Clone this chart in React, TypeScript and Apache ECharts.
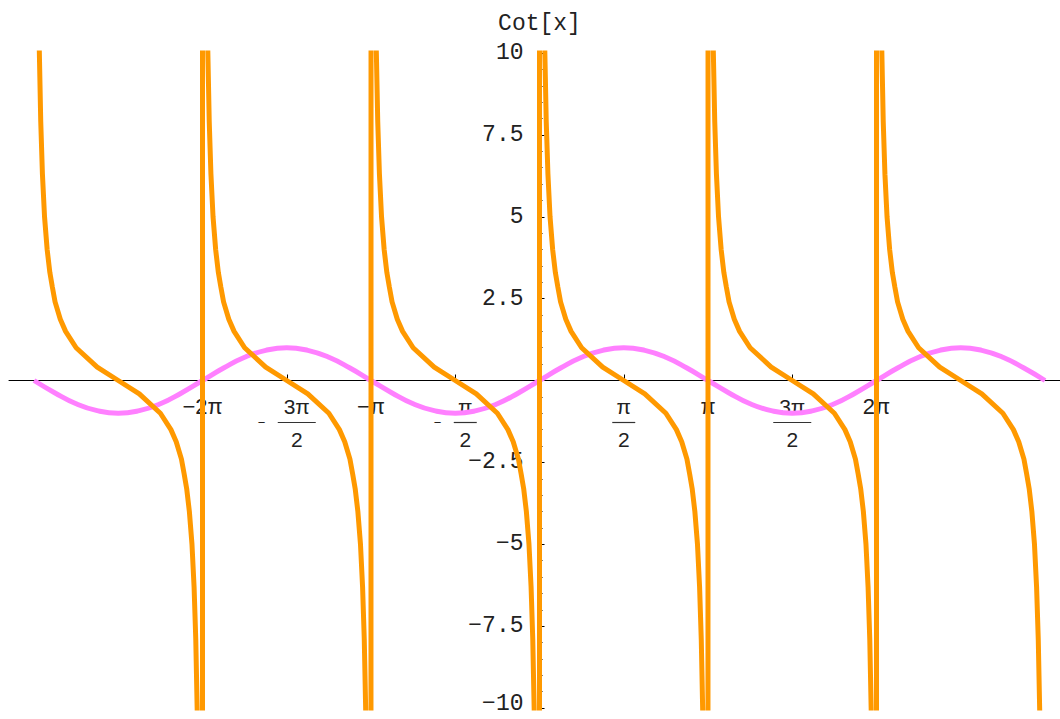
import React, { useEffect, useRef } from 'react';
import * as echarts from 'echarts';

// x values are in units of π
const xTickValues = [-2, -1.5, -1, -0.5, 0.5, 1, 1.5, 2];
const xTickLabels = ['−2π', '−3π/2', '−π', '−π/2', 'π/2', 'π', '3π/2', '2π'];

// Cot[x]: one branch (offset from the asymptote in π units, value)
const branchStarts = [-3, -2, -1, 0, 1, 2];
const cotBranch: [number, number][] = [
  [0.002, 160], [0.031, 10.2], [0.04, 7.9], [0.05, 6.3], [0.0625, 5.0], [0.078, 4.0],
  [0.094, 3.3], [0.109, 2.85], [0.125, 2.4], [0.156, 1.87], [0.1875, 1.5], [0.25, 1.0],
  [0.375, 0.41], [0.5, 0], [0.625, -0.41], [0.75, -1.0], [0.8125, -1.5], [0.844, -1.87],
  [0.875, -2.4], [0.891, -2.85], [0.906, -3.3], [0.922, -4.0], [0.9375, -5.0], [0.95, -6.3],
  [0.96, -7.9], [0.969, -10.2], [0.998, -160],
];

// Sin[x]
const sinPoints: [number, number][] = [
  [-3, 0], [-2.875, -0.38], [-2.75, -0.71], [-2.625, -0.92], [-2.5, -1], [-2.375, -0.92], [-2.25, -0.71], [-2.125, -0.38],
  [-2, 0], [-1.875, 0.38], [-1.75, 0.71], [-1.625, 0.92], [-1.5, 1], [-1.375, 0.92], [-1.25, 0.71], [-1.125, 0.38],
  [-1, 0], [-0.875, -0.38], [-0.75, -0.71], [-0.625, -0.92], [-0.5, -1], [-0.375, -0.92], [-0.25, -0.71], [-0.125, -0.38],
  [0, 0], [0.125, 0.38], [0.25, 0.71], [0.375, 0.92], [0.5, 1], [0.625, 0.92], [0.75, 0.71], [0.875, 0.38],
  [1, 0], [1.125, -0.38], [1.25, -0.71], [1.375, -0.92], [1.5, -1], [1.625, -0.92], [1.75, -0.71], [1.875, -0.38],
  [2, 0], [2.125, 0.38], [2.25, 0.71], [2.375, 0.92], [2.5, 1], [2.625, 0.92], [2.75, 0.71], [2.875, 0.38],
  [3, 0],
];

const xMin = -3.1484;
const xMax = 3.089;
const yMin = -10;
const yMax = 10;
const yInterval = 2.5;

function buildCot(): [number, number][] {
  const out: [number, number][] = [];
  branchStarts.forEach((k, bi) => {
    cotBranch.forEach(([u, y]) => {
      if (bi === 0 && u < 0.01) return;
      if (bi === branchStarts.length - 1 && u > 0.99) return;
      out.push([k + u, y]);
    });
  });
  return out;
}

function xLabel(v: number): string {
  const idx = xTickValues.findIndex((t) => Math.abs(t - v) < 1e-9);
  if (idx < 0) return '';
  const lab = xTickLabels[idx];
  if (lab.indexOf('/') < 0) return '{t|' + lab + '}';
  const neg = lab[0] === '−';
  const body = neg ? lab.slice(1) : lab;
  const [num, den] = body.split('/');
  const bar = num.length > 1 ? '{bw| }' : '{bn| }';
  if (neg) {
    return '{s| }{n|' + num + '}\n{m|−}' + bar + '\n{s| }{d|' + den + '}';
  }
  return '{n|' + num + '}\n' + bar + '\n{d|' + den + '}';
}

function yLabel(v: number): string {
  if (v === 0) return '';
  const s = String(v).replace('-', '−');
  return v === yMin ? '{lo|' + s + '}' : s;
}

export default function App() {
  const ref = useRef<HTMLDivElement>(null);
  useEffect(() => {
    const chart = echarts.init(ref.current!, null, { renderer: 'svg' });
    const ink = '#222';
    const sans = 'Liberation Sans';
    const mono = 'Liberation Mono';
    const W = 1060;
    const H = 719;
    const g = { left: 9, right: 0, top: 53, bottom: 11 };
    const gw = W - g.left - g.right;
    const gh = H - g.top - g.bottom;
    const zeroX = g.left + ((0 - xMin) / (xMax - xMin)) * gw;
    const zeroY = g.top + ((yMax - 0) / (yMax - yMin)) * gh;
    chart.setOption({
      animation: false,
      backgroundColor: '#ffffff',
      grid: { ...g, containLabel: false, outerBoundsMode: 'none' },
      xAxis: {
        type: 'value',
        min: xMin,
        max: xMax,
        position: 'bottom',
        offset: -(H - g.bottom - zeroY),
        splitLine: { show: false },
        axisLine: { show: true, onZero: false, lineStyle: { color: '#000', width: 1 } },
        axisTick: { show: true, inside: true, length: 6, customValues: xTickValues, lineStyle: { color: '#000' } },
        axisLabel: {
          show: true,
          customValues: xTickValues,
          margin: 16,
          verticalAlign: 'top',
          formatter: (v: number) => xLabel(v),
          rich: {
            t: { fontFamily: sans, fontSize: 22, color: ink, lineHeight: 20 },
            n: { fontFamily: sans, fontSize: 21, color: ink, lineHeight: 20 },
            d: { fontFamily: sans, fontSize: 21, color: ink, lineHeight: 22 },
            m: { fontFamily: sans, fontSize: 13, color: ink, width: 20, align: 'left', lineHeight: 12 },
            s: { fontFamily: sans, fontSize: 13, color: ink, width: 20, lineHeight: 12 },
            bw: { fontSize: 10, width: 38, height: 1.2, backgroundColor: '#333', lineHeight: 12 },
            bn: { fontSize: 10, width: 23, height: 1.2, backgroundColor: '#333', lineHeight: 12 },
          },
        },
      },
      yAxis: {
        type: 'value',
        min: yMin,
        max: yMax,
        interval: yInterval,
        position: 'left',
        offset: -(zeroX - g.left),
        name: 'Cot[x]',
        nameLocation: 'end',
        nameGap: 18,
        nameTextStyle: { fontFamily: mono, fontSize: 23, color: ink },
        splitLine: { show: false },
        axisLine: { show: true, onZero: false, lineStyle: { color: '#000', width: 1 } },
        axisTick: { show: true, inside: true, length: 5, lineStyle: { color: '#000' } },
        minorTick: { show: true, splitNumber: 5, length: 3, lineStyle: { color: '#000' } },
        axisLabel: {
          margin: 16,
          fontFamily: mono,
          fontSize: 23,
          lineHeight: 20,
          color: ink,
          formatter: (v: number) => yLabel(v),
          rich: {
            lo: { fontFamily: mono, fontSize: 23, color: ink, lineHeight: 20, padding: [0, 0, 8, 0] },
          },
        },
      },
      series: [
        {
          type: 'line',
          name: 'Sin[x]',
          data: sinPoints,
          showSymbol: false,
          smooth: true,
          clip: true,
          lineStyle: { color: '#ff80ff', width: 5 },
          z: 2,
        },
        {
          type: 'line',
          name: 'Cot[x]',
          data: buildCot(),
          showSymbol: false,
          clip: true,
          lineStyle: { color: '#ff9900', width: 5 },
          z: 3,
        },
      ],
    });
    return () => chart.dispose();
  }, []);
  return (
    <div
      ref={ref}
      style={{ position: 'fixed', left: 0, top: 0, width: 1060, height: 719, background: '#fff' }}
    />
  );
}
